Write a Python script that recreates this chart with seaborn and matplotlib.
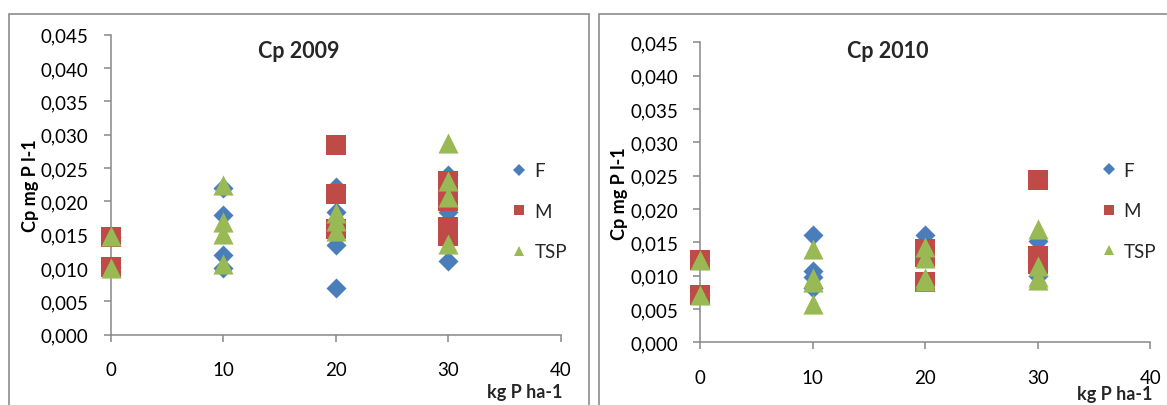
import matplotlib
matplotlib.use("Agg")
import matplotlib.pyplot as plt
import seaborn as sns
import pandas as pd
from matplotlib.lines import Line2D
from matplotlib.patches import Rectangle

# ---------------- data ----------------
series_names = ["F", "M", "TSP"]
x_ticks = [0, 10, 20, 30, 40]
y_ticks = [0.000, 0.005, 0.010, 0.015, 0.020, 0.025, 0.030, 0.035, 0.040, 0.045]
y_tick_labels = ["0,000", "0,005", "0,010", "0,015", "0,020", "0,025", "0,030", "0,035", "0,040", "0,045"]
titles = ["Cp 2009", "Cp 2010"]
x_label = "kg P ha-1"
y_label = "Cp mg P l-1"

# 2009
f09_x = [0, 0, 10, 10, 10, 10, 20, 20, 20, 20, 30, 30, 30]
f09_y = [0.0147, 0.0101, 0.0220, 0.0179, 0.0120, 0.0100, 0.0222, 0.0184, 0.0134, 0.0070, 0.0240, 0.0184, 0.0111]
m09_x = [0, 0, 20, 20, 20, 30, 30, 30, 30]
m09_y = [0.0147, 0.0101, 0.0285, 0.0211, 0.0159, 0.0230, 0.0200, 0.0161, 0.0148]
t09_x = [0, 0, 10, 10, 10, 10, 20, 20, 20, 30, 30, 30, 30]
t09_y = [0.0148, 0.0100, 0.0224, 0.0169, 0.0151, 0.0106, 0.0183, 0.0170, 0.0155, 0.0287, 0.0231, 0.0206, 0.0136]

# 2010
f10_x = [0, 0, 10, 10, 10, 10, 20, 30, 30]
f10_y = [0.0123, 0.0071, 0.0161, 0.0107, 0.0098, 0.0081, 0.0161, 0.0152, 0.0100]
m10_x = [0, 0, 20, 20, 20, 30, 30, 30]
m10_y = [0.0123, 0.0071, 0.0140, 0.0128, 0.0090, 0.0243, 0.0130, 0.0117]
t10_x = [0, 0, 10, 10, 10, 10, 20, 20, 20, 20, 30, 30, 30, 30]
t10_y = [0.0123, 0.0071, 0.0140, 0.0097, 0.0090, 0.0058, 0.0143, 0.0127, 0.0097, 0.0092, 0.0170, 0.0115, 0.0098, 0.0093]

# ---------------- style ----------------
colors = {"F": "#4a7ebb", "M": "#be4b48", "TSP": "#98b954"}
markers = {"F": "D", "M": "s", "TSP": "^"}
sizes = {"F": 104, "M": 215, "TSP": 210}
legend_ms = {"F": 5.8, "M": 7.0, "TSP": 7.8}

sns.set_style("white")
plt.rcParams["font.family"] = ["Lato", "DejaVu Sans"]

fig = plt.figure(figsize=(11.67, 4.06), dpi=100)
W, H = 1167.0, 406.0

def frac_rect(x0, y0, x1, y1):
    return [x0 / W, 1 - y1 / H, (x1 - x0) / W, (y1 - y0) / H]

axes_px = [(110.6, 35.7, 560.6, 335.7), (700.4, 43.3, 1150.2, 343.3)]
datasets = [
    {"F": (f09_x, f09_y), "M": (m09_x, m09_y), "TSP": (t09_x, t09_y)},
    {"F": (f10_x, f10_y), "M": (m10_x, m10_y), "TSP": (t10_x, t10_y)},
]
title_pos = [(0.418, 0.946), (0.417, 0.971)]
xlabel_pos = [(1.005, -0.19), (1.006, -0.17)]
legend_anchor = [(0.892, 0.411), (0.891, 0.438)]

spine_col = "#888888"

for i, (px, data) in enumerate(zip(axes_px, datasets)):
    ax = fig.add_axes(frac_rect(*px))
    for name in series_names:
        xs, ys = data[name]
        df = pd.DataFrame({"x": xs, "y": ys})
        sns.scatterplot(data=df, x="x", y="y", ax=ax, marker=markers[name],
                        color=colors[name], s=sizes[name], linewidth=0,
                        zorder=3, clip_on=False)
    ax.set_xlim(0, 40)
    ax.set_ylim(0, 0.045)
    ax.set_xticks(x_ticks)
    ax.set_xticklabels([str(t) for t in x_ticks])
    ax.set_yticks(y_ticks)
    ax.set_yticklabels(y_tick_labels)
    ax.set_xlabel("")
    ax.set_ylabel(y_label, fontsize=13, fontweight="bold", color="black")
    ax.yaxis.set_label_coords(-0.16, 0.5)
    ax.text(xlabel_pos[i][0], xlabel_pos[i][1], x_label, transform=ax.transAxes,
            ha="right", va="center", fontsize=13, fontweight="bold")
    ax.text(title_pos[i][0], title_pos[i][1], titles[i], transform=ax.transAxes,
            ha="center", va="center", fontsize=15.5, fontweight="bold")
    for s in ["top", "right"]:
        ax.spines[s].set_visible(False)
    for s in ["left", "bottom"]:
        ax.spines[s].set_color(spine_col)
        ax.spines[s].set_linewidth(1.1)
    ax.tick_params(axis="both", direction="out", length=5, width=1.1,
                   color=spine_col, labelsize=13.5, labelcolor="black",
                   left=True, bottom=True)
    ax.tick_params(axis="x", pad=14)
    ax.tick_params(axis="y", pad=11)
    ax.grid(False)
    handles = [Line2D([], [], linestyle="none", marker=markers[n], color=colors[n],
                      markersize=legend_ms[n], markeredgewidth=0) for n in series_names]
    ax.legend(handles, series_names, loc="center left", bbox_to_anchor=legend_anchor[i],
              frameon=False, fontsize=13.5, handlelength=0.8, handletextpad=0.4,
              labelspacing=1.25, borderpad=0, borderaxespad=0)

# panel borders
fig.add_artist(Rectangle((9 / W, -0.1), (588.5 - 9) / W, 1.1 - 15 / H,
                         transform=fig.transFigure, fill=False,
                         edgecolor="#8c8c8c", linewidth=1.2))
fig.add_artist(Rectangle((599.3 / W, -0.1), 0.5, 1.1 - 15 / H,
                         transform=fig.transFigure, fill=False,
                         edgecolor="#8c8c8c", linewidth=1.2))

fig.savefig("out.png", dpi=100)
